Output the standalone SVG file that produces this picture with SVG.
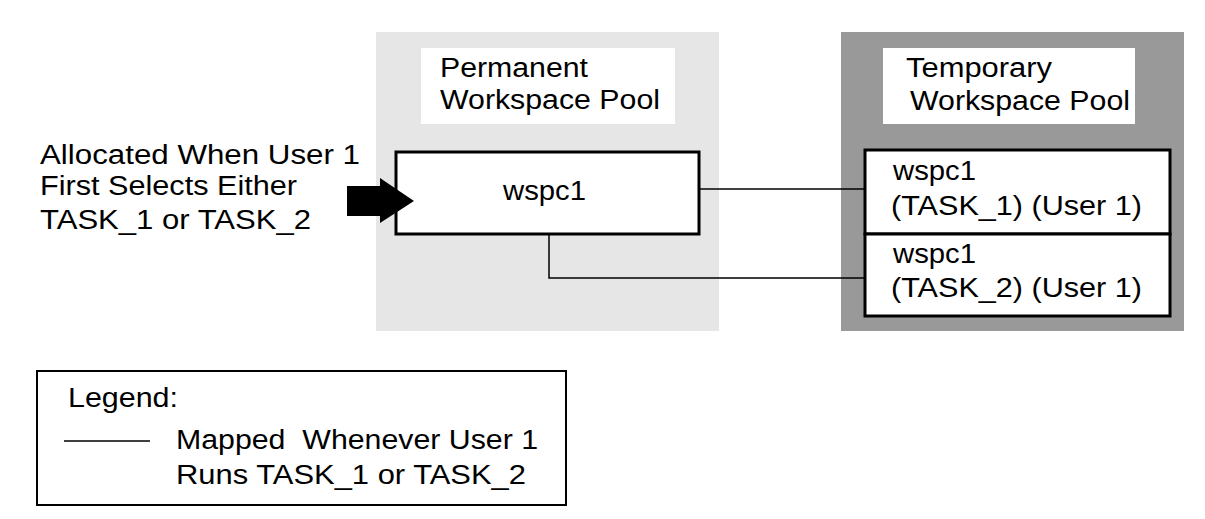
<svg xmlns="http://www.w3.org/2000/svg" width="1205" height="519" viewBox="0 0 1205 519">
<style>
text{font-family:"Liberation Sans",Arial,sans-serif;font-size:27px;fill:#000}
.box{fill:#fff;stroke:#000;stroke-width:3}
.conn{fill:none;stroke:#000;stroke-width:1.5}
</style>
<rect width="1205" height="519" fill="#fff"/>
<g id="permanent-pool">
<rect x="376" y="32" width="343" height="299" fill="#e6e6e6"/>
<rect x="421" y="48" width="254" height="76" fill="#fff"/>
<text x="440" y="77" textLength="148" lengthAdjust="spacingAndGlyphs">Permanent</text>
<text x="440" y="109" textLength="220" lengthAdjust="spacingAndGlyphs">Workspace Pool</text>
</g>
<g id="temporary-pool">
<rect x="841" y="32" width="343" height="299" fill="#999"/>
<rect x="883" y="48" width="252" height="76" fill="#fff"/>
<text x="906" y="77" textLength="146" lengthAdjust="spacingAndGlyphs">Temporary</text>
<text x="910" y="110" textLength="220" lengthAdjust="spacingAndGlyphs">Workspace Pool</text>
</g>
<g id="wspc1-perm">
<rect class="box" x="396" y="152" width="303" height="82"/>
<text x="503" y="200" textLength="83" lengthAdjust="spacingAndGlyphs">wspc1</text>
</g>
<g id="wspc1-task1">
<rect class="box" x="865" y="150" width="305" height="84"/>
<text x="893" y="180" textLength="83" lengthAdjust="spacingAndGlyphs">wspc1</text>
<text x="891" y="215" textLength="251" lengthAdjust="spacingAndGlyphs">(TASK_1) (User 1)</text>
</g>
<g id="wspc1-task2">
<rect class="box" x="865" y="234" width="305" height="82"/>
<text x="893" y="263" textLength="83" lengthAdjust="spacingAndGlyphs">wspc1</text>
<text x="891" y="297" textLength="251" lengthAdjust="spacingAndGlyphs">(TASK_2) (User 1)</text>
</g>
<g id="connectors">
<line class="conn" x1="699" y1="189" x2="865" y2="189"/>
<polyline class="conn" points="549,234 549,278 865,278"/>
<path d="M347,186 H380 V178 L414,201 L380,223 V216 H347 Z" fill="#000"/>
</g>
<g id="allocated-label">
<text x="40" y="164" textLength="320" lengthAdjust="spacingAndGlyphs">Allocated When User 1</text>
<text x="40" y="195" textLength="257" lengthAdjust="spacingAndGlyphs">First Selects Either</text>
<text x="40" y="229" textLength="271" lengthAdjust="spacingAndGlyphs">TASK_1 or TASK_2</text>
</g>
<g id="legend">
<rect x="37" y="371" width="529" height="134" fill="none" stroke="#000" stroke-width="2"/>
<text x="68" y="407" textLength="110" lengthAdjust="spacingAndGlyphs">Legend:</text>
<line x1="64" y1="441" x2="150" y2="441" stroke="#000" stroke-width="1.5"/>
<text x="176" y="449" xml:space="preserve" textLength="362" lengthAdjust="spacingAndGlyphs">Mapped  Whenever User 1</text>
<text x="176" y="484" textLength="350" lengthAdjust="spacingAndGlyphs">Runs TASK_1 or TASK_2</text>
</g>
</svg>
